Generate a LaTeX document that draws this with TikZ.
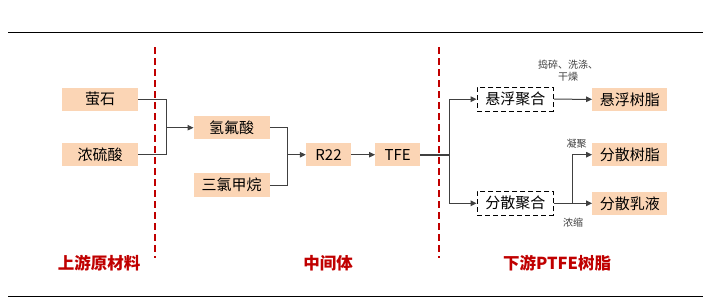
\documentclass[tikz,border=0pt]{standalone}
\usepackage{fontspec}
\setmainfont{Noto Sans CJK SC}
\usetikzlibrary{arrows.meta}
\definecolor{boxfill}{HTML}{FBD5B5}
\definecolor{darkred}{HTML}{C00000}
\definecolor{linegray}{HTML}{404040}
\tikzset{
  matbox/.style={fill=boxfill, minimum width=76pt, minimum height=23.5pt, inner sep=0pt, font=\fontsize{15}{16}\selectfont, text=black},
  procbox/.style={draw=black, dashed, dash pattern=on 5pt off 3pt, line width=1.4pt, minimum width=76pt, minimum height=24pt, inner sep=0pt, font=\fontsize{15}{16}\selectfont, text=black},
  conn/.style={draw=linegray, line width=1pt},
  arr/.style={conn, -{Triangle[length=6pt,width=5.5pt]}},
  divider/.style={draw=darkred, line width=1.6pt, dash pattern=on 7pt off 4pt},
  seclabel/.style={text=darkred, font=\fontsize{16.5}{18}\selectfont\bfseries},
  note/.style={text=linegray, font=\fontsize{10}{11.5}\selectfont, align=center, inner sep=0pt},
  rule/.style={draw=black, line width=1.2pt}
}
\begin{document}
\begin{tikzpicture}[x=1pt,y=-1pt]
\useasboundingbox (0,0) rectangle (707,300);
% rules
\coordinate (tl) at (8,32.5);
\coordinate (tr) at (703,32.5);
\coordinate (bl) at (8,296.5);
\coordinate (br) at (703,296.5);
\draw[rule] (tl) -- (tr);
\draw[rule] (bl) -- (br);
% dividers
\coordinate (d1a) at (155,47);
\coordinate (d1b) at (155,258);
\coordinate (d2a) at (439,47);
\coordinate (d2b) at (439,258);
\draw[divider] (d1a) -- (d1b);
\draw[divider] (d2a) -- (d2b);
% boxes
\node[matbox] (ys) at (100,99.3) {萤石};
\node[matbox] (ls) at (100,154.7) {浓硫酸};
\node[matbox] (hf) at (231.7,127.7) {氢氟酸};
\node[matbox] (sl) at (231.7,185) {三氯甲烷};
\node[matbox, minimum width=45pt] (r22) at (328.5,154.7) {R22};
\node[matbox, minimum width=45pt] (tfe) at (397.7,154.7) {TFE};
\node[procbox] (xf) at (515.3,99.2) {悬浮聚合};
\node[procbox] (fs) at (515.3,203.3) {分散聚合};
\node[matbox, minimum width=75pt] (xfsz) at (629.8,99.3) {悬浮树脂};
\node[matbox, minimum width=75pt] (fssz) at (629.8,154.7) {分散树脂};
\node[matbox, minimum width=75pt] (fsry) at (629.8,203.3) {分散乳液};
% junctions
\coordinate (j1) at (166,127.7);
\coordinate (j2) at (287.3,154.7);
\coordinate (j3) at (449.3,154.7);
\coordinate (j4) at (572.7,203.3);
% connectors
\draw[conn] (ys.east) -| (j1);
\draw[conn] (ls.east) -| (j1);
\draw[arr] (j1) -- (hf.west);
\draw[conn] (hf.east) -| (j2);
\draw[conn] (sl.east) -| (j2);
\draw[arr] (j2) -- (r22.west);
\draw[arr] (r22.east) -- (tfe.west);
\draw[conn, line width=2pt] (tfe.east) -- (j3);
\draw[arr, line width=1.3pt] (j3) |- (xf.west);
\draw[arr, line width=1.3pt] (j3) |- (fs.west);
\draw[arr] (xf.east) -- (xfsz.west);
\draw[conn, line width=1.3pt] (fs.east) -- (j4);
\draw[arr] (j4) |- (fssz.west);
\draw[arr] (j4) -- (fsry.west);
% notes
\node[note] (n1) at (568,70.5) {捣碎、洗涤、\\干燥};
\node[note] (n2) at (576.5,144) {凝聚};
\node[note] (n3) at (573,222.5) {浓缩};
% section labels
\node[seclabel] (s1) at (99,263) {上游原材料};
\node[seclabel] (s2) at (328,263) {中间体};
\node[seclabel] (s3) at (557,263.3) {下游PTFE树脂};
\end{tikzpicture}
\end{document}
